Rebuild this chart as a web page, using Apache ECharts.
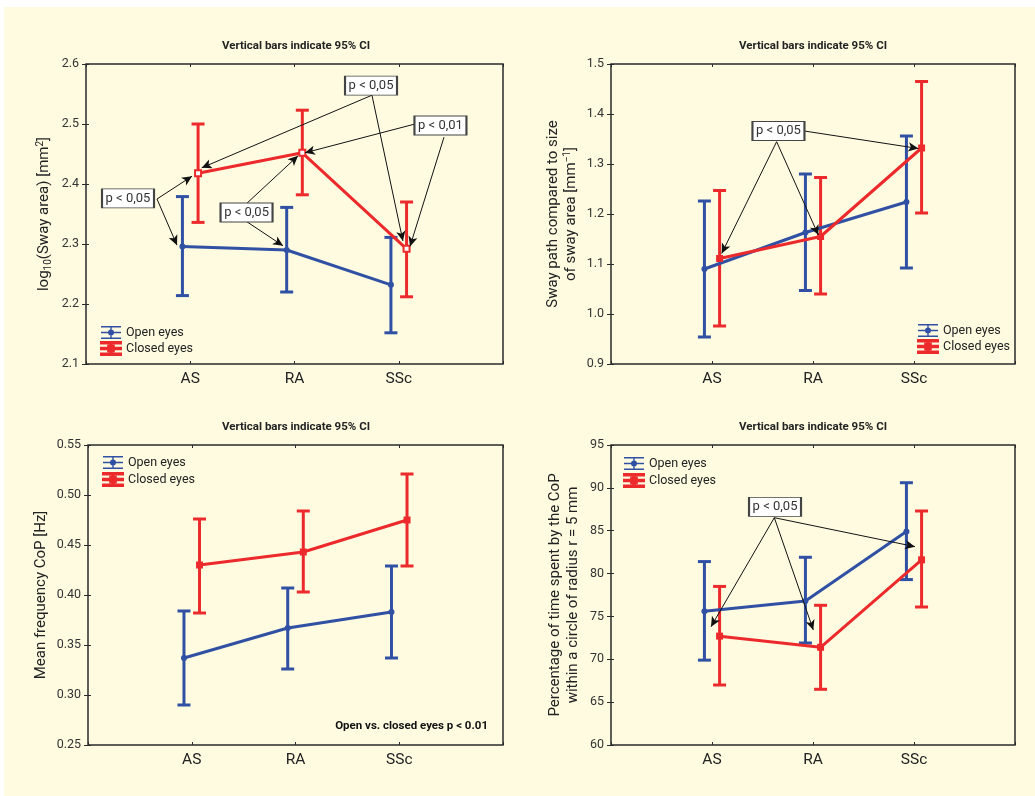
<!DOCTYPE html>
<html><head><meta charset="utf-8">
<script src="https://cdn.jsdelivr.net/npm/echarts@6/dist/echarts.min.js"></script>
<style>
html,body{margin:0;padding:0;background:#ffffff;}
#bg{position:absolute;left:4px;top:7px;width:1031px;height:789px;background:#FFFBE0;}
#c{position:absolute;left:0;top:0;width:1035px;height:796px;}
</style></head><body>
<div id="bg"></div><div id="c"></div>
<script>
// ---------- data ----------
const categories = ['AS', 'RA', 'SSc'];
const seriesNames = ['Open eyes', 'Closed eyes'];
const panelTitle = 'Vertical bars indicate 95% CI';

// Panel 1: log10(Sway area)
const p1OpenMean = [2.296, 2.290, 2.232];
const p1OpenLow = [2.214, 2.220, 2.152];
const p1OpenHigh = [2.379, 2.361, 2.311];
const p1ClosedMean = [2.418, 2.452, 2.292];
const p1ClosedLow = [2.336, 2.382, 2.212];
const p1ClosedHigh = [2.500, 2.523, 2.370];

// Panel 2: Sway path compared to size of sway area
const p2OpenMean = [1.090, 1.163, 1.224];
const p2OpenLow = [0.954, 1.047, 1.092];
const p2OpenHigh = [1.226, 1.280, 1.356];
const p2ClosedMean = [1.111, 1.155, 1.332];
const p2ClosedLow = [0.976, 1.040, 1.202];
const p2ClosedHigh = [1.247, 1.273, 1.465];

// Panel 3: Mean frequency CoP
const p3OpenMean = [0.337, 0.367, 0.383];
const p3OpenLow = [0.290, 0.326, 0.337];
const p3OpenHigh = [0.384, 0.407, 0.429];
const p3ClosedMean = [0.430, 0.443, 0.475];
const p3ClosedLow = [0.382, 0.403, 0.429];
const p3ClosedHigh = [0.476, 0.484, 0.521];

// Panel 4: Percentage of time within r = 5 mm
const p4OpenMean = [75.6, 76.8, 84.9];
const p4OpenLow = [69.9, 71.9, 79.3];
const p4OpenHigh = [81.4, 81.9, 90.6];
const p4ClosedMean = [72.7, 71.4, 81.6];
const p4ClosedLow = [67.0, 66.5, 76.1];
const p4ClosedHigh = [78.5, 76.3, 87.3];

// y-axis ranges [min, max, interval]
const p1Y = [2.1, 2.6, 0.1];
const p2Y = [0.9, 1.5, 0.1];
const p3Y = [0.25, 0.55, 0.05];
const p4Y = [60, 95, 5];

// annotations (data units: x = category position, y = value)
const p1Boxes = [[2.734, 2.564, 'p < 0,05'], [3.40, 2.4975, 'p < 0,01'], [0.403, 2.376, 'p < 0,05'], [1.54, 2.3525, 'p < 0,05']];
const p1Arrows = [
  [[2.743, 2.548], [1.11, 2.427]], [[2.743, 2.548], [3.04, 2.305]],
  [[3.156, 2.500], [2.10, 2.452]], [[3.434, 2.478], [3.108, 2.296]],
  [[0.681, 2.375], [1.017, 2.413]], [[0.681, 2.375], [0.873, 2.298]],
  [[1.544, 2.368], [2.034, 2.447]], [[1.544, 2.337], [1.89, 2.297]]
];
const p2Boxes = [[1.658, 1.366, 'p < 0,05']];
const p2Arrows = [
  [[1.914, 1.366], [3.043, 1.331]], [[1.640, 1.3446], [1.096, 1.121]], [[1.640, 1.3446], [2.053, 1.158]]
];
const p4Boxes = [[1.624, 87.77, 'p < 0,05']];
const p4Arrows = [
  [[1.617, 86.52], [0.990, 73.8]], [[1.617, 86.52], [2.003, 73.42]], [[1.617, 86.52], [3.01, 83.14]]
];
const p3Note = 'Open vs. closed eyes p < 0.01';

// ---------- styling ----------
const FONT = "Roboto,'Liberation Sans',sans-serif";
const BLUE = '#3050A4';
const RED = '#EC2A2C';
const OFF = 0.075;

const grids = [
  {left: 86, top: 64, width: 417, height: 300},
  {left: 611, top: 64, width: 404, height: 300},
  {left: 88, top: 445, width: 415, height: 300},
  {left: 611, top: 445, width: 404, height: 300}
].map(g => Object.assign(g, {show: true, borderColor: '#2a2a2a', borderWidth: 1.5, backgroundColor: 'transparent'}));

const tickStyle = {show: true, inside: true, length: 3, lineStyle: {color: '#2a2a2a'}};
const xAxes = [], yAxes = [];
for (let i = 0; i < 4; i++) {
  xAxes.push({type: 'value', gridIndex: i, min: 0, max: 4, interval: 1, position: 'bottom',
    axisLine: {show: false}, splitLine: {show: false}, axisTick: tickStyle,
    axisLabel: {margin: 7, fontFamily: FONT, fontSize: 15.5, color: '#222',
      formatter: v => (v >= 1 && v <= 3) ? categories[v - 1] : ''}});
}
for (let i = 0; i < 4; i++) {
  xAxes.push({type: 'value', gridIndex: i, min: 0, max: 4, interval: 1, position: 'top',
    axisLine: {show: false}, splitLine: {show: false}, axisLabel: {show: false}, axisTick: tickStyle});
}
const yr = [p1Y, p2Y, p3Y, p4Y];
const yDec = [1, 1, 2, 0];
const yNames = [
  'log{sub|10}(Sway area) [mm{sup|2}]',
  'Sway path compared to size\nof sway area [mm{sup|−1}]',
  'Mean frequency CoP [Hz]',
  'Percentage of time spent by the CoP\nwithin a circle of radius r = 5 mm'
];
const yNameGap = [33, 31, 38, 29];
for (let i = 0; i < 4; i++) {
  yAxes.push({type: 'value', gridIndex: i, min: yr[i][0], max: yr[i][1], interval: yr[i][2],
    axisLine: {show: false}, splitLine: {show: false}, axisTick: tickStyle,
    axisLabel: {margin: 7, fontFamily: FONT, fontSize: 12.5, color: '#333', formatter: v => v.toFixed(yDec[i])},
    name: yNames[i], nameLocation: 'middle', nameGap: yNameGap[i],
    nameTextStyle: {fontFamily: FONT, fontSize: 15, color: '#222', lineHeight: 18,
      rich: {sub: {fontFamily: FONT, fontSize: 10, color: '#222', padding: [8, 0, 0, 0]},
             sup: {fontFamily: FONT, fontSize: 10, color: '#222', padding: [0, 0, 7, 0]}}}});
}
for (let i = 0; i < 4; i++) {
  yAxes.push({type: 'value', gridIndex: i, min: yr[i][0], max: yr[i][1], interval: yr[i][2], position: 'right',
    axisLine: {show: false}, splitLine: {show: false}, axisLabel: {show: false},
    axisTick: {show: true, inside: true, length: 4, lineStyle: {color: '#2a2a2a'}}});
}

const panels = [
  {om: p1OpenMean, ol: p1OpenLow, oh: p1OpenHigh, cm: p1ClosedMean, cl: p1ClosedLow, ch: p1ClosedHigh, boxes: p1Boxes, arrows: p1Arrows, hollow: true},
  {om: p2OpenMean, ol: p2OpenLow, oh: p2OpenHigh, cm: p2ClosedMean, cl: p2ClosedLow, ch: p2ClosedHigh, boxes: p2Boxes, arrows: p2Arrows},
  {om: p3OpenMean, ol: p3OpenLow, oh: p3OpenHigh, cm: p3ClosedMean, cl: p3ClosedLow, ch: p3ClosedHigh, boxes: [], arrows: []},
  {om: p4OpenMean, ol: p4OpenLow, oh: p4OpenHigh, cm: p4ClosedMean, cl: p4ClosedLow, ch: p4ClosedHigh, boxes: p4Boxes, arrows: p4Arrows}
];

function errSeries(i, name, color, mean, low, high, off) {
  return {
    type: 'custom', name: name + ' CI', xAxisIndex: i, yAxisIndex: i, z: 2, silent: true,
    data: mean.map((m, k) => [k + 1 + off, low[k], high[k]]),
    encode: {x: 0, y: [1, 2]},
    renderItem: function (params, api) {
      const x = api.value(0);
      const lo = api.coord([x, api.value(1)]);
      const hi = api.coord([x, api.value(2)]);
      const w = 6.5;
      const st = {stroke: color, lineWidth: 3};
      return {type: 'group', children: [
        {type: 'line', shape: {x1: lo[0], y1: lo[1], x2: hi[0], y2: hi[1]}, style: st},
        {type: 'line', shape: {x1: lo[0] - w, y1: lo[1], x2: lo[0] + w, y2: lo[1]}, style: st},
        {type: 'line', shape: {x1: hi[0] - w, y1: hi[1], x2: hi[0] + w, y2: hi[1]}, style: st}
      ]};
    }
  };
}

const series = [];
panels.forEach((p, i) => {
  series.push(errSeries(i, seriesNames[0], BLUE, p.om, p.ol, p.oh, -OFF));
  series.push(errSeries(i, seriesNames[1], RED, p.cm, p.cl, p.ch, OFF));
  series.push({type: 'line', name: seriesNames[0], xAxisIndex: i, yAxisIndex: i, z: 3,
    data: p.om.map((m, k) => [k + 1 - OFF, m]),
    symbol: 'circle', symbolSize: 6, itemStyle: {color: BLUE},
    lineStyle: {color: BLUE, width: 3}});
  const closed = {type: 'line', name: seriesNames[1], xAxisIndex: i, yAxisIndex: i, z: 4,
    data: p.cm.map((m, k) => [k + 1 + OFF, m]),
    symbol: p.hollow ? 'emptyRect' : 'rect', symbolSize: p.hollow ? 6 : 7,
    itemStyle: {color: RED, borderColor: RED, borderWidth: p.hollow ? 1.2 : 0},
    lineStyle: {color: RED, width: 3}};
  if (p.arrows.length) {
    closed.markLine = {silent: true, symbol: ['none', 'arrow'], symbolSize: [7, 10], precision: 6,
      label: {show: false}, lineStyle: {color: '#111', width: 1, type: 'solid'},
      emphasis: {disabled: true},
      data: p.arrows.map(a => [{coord: a[0]}, {coord: a[1]}])};
  }
  if (p.boxes.length) {
    closed.markPoint = {silent: true, symbol: 'rect', symbolSize: [52, 19],
      itemStyle: {color: '#ffffff', borderColor: '#444', borderWidth: 1.3},
      label: {show: true, position: 'inside', fontFamily: FONT, fontSize: 13, color: '#333'},
      data: p.boxes.map(b => ({coord: [b[0], b[1]], value: b[2], label: {formatter: b[2]}}))};
  }
  series.push(closed);
});

const iconOpen = 'path://M0,0h20v1.5h-20z M0,5.75h20v1.5h-20z M0,11.5h20v1.5h-20z M9.3,0h1.4v13h-1.4z M13,6.5a3,3 0 1,1 -6,0a3,3 0 1,1 6,0z';
const iconClosed = 'path://M0,0h20v1.5h-20z M0,5.75h20v1.5h-20z M0,11.5h20v1.5h-20z M9.3,0h1.4v13h-1.4z M7.2,3.7h5.6v5.6h-5.6z';
function legend(left, top, gap) {
  return {orient: 'vertical', left: left, top: top, itemWidth: 20, itemHeight: 13, itemGap: gap, padding: 0,
    selectedMode: false,
    textStyle: {fontFamily: FONT, fontSize: 12.5, color: '#222'},
    data: [{name: seriesNames[0], icon: iconOpen}, {name: seriesNames[1], icon: iconClosed}]};
}

const titles = [[296, 40], [813, 40], [296, 421], [813, 421]].map(t => ({
  text: panelTitle, left: t[0], top: t[1], textAlign: 'center', padding: 0,
  textStyle: {fontFamily: FONT, fontSize: 11.5, fontWeight: 'bold', color: '#222'}}));
titles.push({text: p3Note, left: 488, top: 720, textAlign: 'right', padding: 0,
  textStyle: {fontFamily: FONT, fontSize: 11.5, fontWeight: 'bold', color: '#111'}});

const chart = echarts.init(document.getElementById('c'), null, {renderer: 'canvas'});
chart.setOption({
  animation: false,
  backgroundColor: 'transparent',
  title: titles,
  grid: grids,
  xAxis: xAxes,
  yAxis: yAxes,
  legend: [legend(100, 326, 2), legend(917, 324, 2), legend(102, 456, 3), legend(623, 457, 3)],
  series: series
});
</script></body></html>
